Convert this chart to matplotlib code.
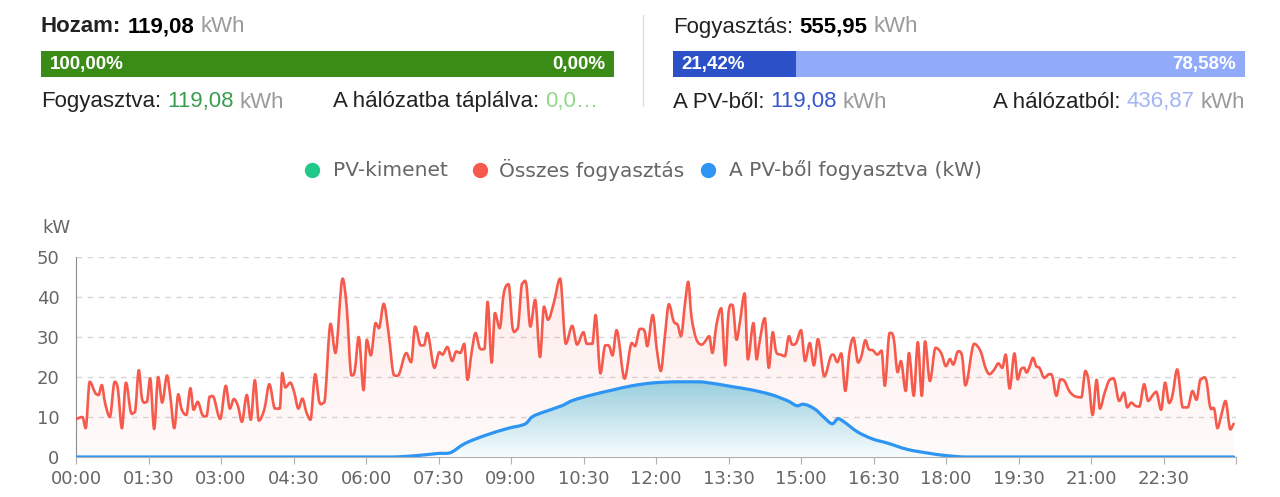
#Importing NumPy for array handling
import numpy as np
#Importing Matplotlib for drawing the dashboard
import matplotlib
matplotlib.use("Agg")
import matplotlib.pyplot as plt
from matplotlib.lines import Line2D
from matplotlib.path import Path
from matplotlib.patches import PathPatch

W, H = 1280, 497  #output size in pixels

#Summary numbers shown in the header (kWh)
yield_total = "119,08"
consumed_total = "555,95"
self_consumed = "119,08"
fed_to_grid = "0,0\u2026"
from_pv = "119,08"
from_grid = "436,87"
yield_shares = [100.00, 0.00]        #self consumed / fed in (%)
consumption_shares = [21.42, 78.58]  #from PV / from grid (%)

#Legend names
series_names = ["PV-kimenet", "Összes fogyasztás", "A PV-ből fogyasztva (kW)"]

#Total consumption (kW) at its turning points (minutes after midnight)
load_min = [0, 8, 12, 17, 24, 28, 32, 36, 42, 48, 52, 57, 62, 68, 73, 78, 82, 88, 92, 97,
            102, 107, 113, 117, 122, 127, 131, 137, 142, 146, 151, 157, 162, 166, 171, 179,
            186, 191, 196, 201, 206, 212, 217, 222, 227, 234, 240,
            247, 253, 256, 260, 266, 271, 276, 281, 286, 291, 297, 302, 308, 316, 322, 331,
            336, 342, 346, 351, 357, 361, 366, 372, 376, 382, 388, 395, 401, 410, 416, 421,
            428, 432, 436, 445, 451, 455, 461, 467, 472,
            477, 482, 486, 491, 496, 501, 507, 511, 516, 520, 526, 531, 537, 542, 548, 554,
            559, 564, 570, 576, 581, 586, 593, 601, 608, 616, 622, 630, 634, 641, 645, 651,
            657, 662, 666, 671, 681, 690, 694, 700, 706,
            709, 716, 721, 726, 731, 736, 742, 747, 751, 756, 760, 764, 770, 777, 781, 786,
            790, 795, 801, 806, 810, 815, 820, 824, 830, 834, 841, 845, 848, 855, 860, 865,
            869, 875, 880, 885, 889, 894, 900, 905, 911, 916, 921, 929, 937,
            940, 945, 950, 955, 960, 965, 971, 975, 980, 984, 989, 995, 1000, 1004, 1010,
            1015, 1020, 1024, 1030, 1034, 1040, 1045, 1050, 1054, 1060, 1067, 1074, 1080,
            1085, 1089, 1095, 1100, 1104, 1115, 1123, 1129, 1134, 1140, 1145, 1150, 1154,
            1159, 1165, 1169, 1173, 1177,
            1180, 1184, 1188, 1192, 1196, 1202, 1208, 1212, 1217, 1222, 1227, 1233, 1239,
            1248, 1253, 1257, 1262, 1267, 1271, 1277, 1284, 1289, 1295, 1301, 1305, 1310,
            1315, 1320, 1326, 1331, 1336, 1341, 1347, 1352, 1357, 1361, 1367, 1374, 1380,
            1386, 1391, 1396, 1403, 1408, 1413, 1417, 1422, 1427, 1433, 1437]
load_kw = [9.5, 10, 7.2, 18.8, 16, 15.5, 18, 13.6, 10, 18.8, 17, 7.2, 18.6, 11.3, 11.2, 21.7,
           14.5, 13.8, 19.7, 7, 20, 13.6, 20.4, 15.3, 7.2, 15.7, 12, 10.5, 17.2, 11.8, 13.8,
           10.5, 10.2, 15.1, 14.9, 9.5, 17.8, 12.1, 14.5, 12.8, 8.8, 15.5, 9.3, 19.2, 9.1,
           12.1, 18.2,
           12.1, 12.1, 21, 17.4, 18.6, 16.1, 12.1, 14.6, 11.2, 9.3, 20.7, 13.8, 13.6, 33.3,
           26, 44.6, 37.6, 20.4, 21.5, 30, 16.7, 29.3, 25.4, 33.5, 32.2, 38.3, 31, 20.4,
           20.7, 26, 23.7, 32.6, 27.9, 27.9, 31, 22.3, 26.2, 25.6, 27.5, 24, 26.4,
           26, 28.3, 19.3, 26, 31, 27.3, 27, 38.8, 23.6, 36, 32.2, 40.9, 43.2, 32.2, 32,
           43.4, 43.2, 32.6, 39.3, 25, 37.6, 34.3, 38.4, 44.6, 28.3, 32.8, 28.1, 31.2, 28.3,
           28.3, 35.5, 20.9, 27.9, 27.7, 25.4, 31.7, 19.6, 28.5, 27.7, 32, 31.4,
           27.7, 35.5, 26.9, 21.5, 30.2, 38.2, 33.9, 33, 30.2, 38.4, 43.8, 35.1, 29.5, 28.1,
           28.9, 30.2, 26, 33, 37.2, 22.9, 36, 38, 29.3, 33.5, 40.9, 24.4, 33.5, 24.4, 28.1,
           34.7, 22.3, 31.2, 26.4, 25.6, 25.2, 30.2, 28.1, 28.5, 31.7, 24, 28.5, 22.9, 29.5,
           20.2, 25.2,
           25.6, 23.7, 25.9, 16.5, 26, 29.8, 23.6, 25.2, 29.2, 27, 26.7, 25.6, 26.6, 17.8,
           31, 29.8, 21.2, 24, 16.5, 26, 15.3, 28.7, 15.3, 28.9, 19, 27.3, 26, 22.7, 24.5,
           23.1, 26.4, 25.2, 17.9, 28.3, 26.4, 22.3, 20.7, 21.9, 23.4, 22.3, 25.6, 17.1,
           25.9, 19.4, 21.9, 22.3,
           21.1, 22.7, 24.8, 22.7, 22.3, 19.8, 20.7, 20.2, 15.3, 19.4, 19, 16.5, 15.3, 14.9,
           21.5, 19, 10.5, 19.3, 12.1, 16.1, 19.4, 19.3, 14, 16.1, 12.4, 13.6, 12.8, 12.6,
           18.2, 14, 15.3, 16.3, 11.8, 18.6, 13.5, 15.3, 21.9, 12.4, 12.4, 16.5, 14.3, 19.4,
           19.3, 12.4, 12, 7.2, 10.7, 14, 6.9, 8.3]

#Consumption covered by PV (kW)
pv_min = [0, 390, 420, 450, 465, 482, 508, 537, 558, 566, 580, 603, 616, 640, 665, 690, 715,
          748, 772, 797, 814, 838, 863, 884, 896, 902, 917, 929, 939, 946, 952, 970, 989,
          1007, 1032, 1057, 1078, 1106, 1437]
pv_kw = [0, 0, 0.3, 0.9, 1.1, 3.3, 5.4, 7.2, 8.3, 10, 11.2, 12.8, 14.1, 15.5, 16.7, 17.8, 18.5,
         18.8, 18.8, 18.2, 17.6, 16.8, 15.6, 14, 12.8, 13.2, 12, 9.8, 8.3, 9.6, 9, 6.3, 4.5,
         3.5, 1.9, 1, 0.4, 0, 0]

#Tick positions for the time axis (every 90 minutes)
tick_min = list(range(0, 1441, 90))
tick_labels = ["%02d:%02d" % (m // 60, m % 60) for m in tick_min]
tick_labels[-1] = ""

#Colours
GREEN_BAR = "#3b8c17"
BLUE_DARK = "#2b50c8"
BLUE_LIGHT = "#91abfa"
RED = "#f65a4c"
BLUE = "#2e95f2"
PV_GREEN = "#20c987"
GREY_UNIT = "#9a9a9a"
TEXT = "#222222"

HEAD_FONT = "Liberation Sans"
CHART_FONT = "DejaVu Sans"


def fx(px):
    return px / W


def fy(py):
    return 1 - py / H


#Draws a row of differently styled text pieces one after the other
def put_runs(fig, x, y, runs, size, align="left", gap=6):
    r = fig.canvas.get_renderer()
    texts = []
    cur = x
    for s, color, weight in runs:
        t = fig.text(fx(cur), fy(y), s, color=color, fontsize=size, fontweight=weight,
                     va="center", ha="left", family=HEAD_FONT)
        cur += t.get_window_extent(r).width + gap
        texts.append(t)
    if align == "right":
        shift = cur - gap - x
        for t in texts:
            t.set_x(t.get_position()[0] - shift / W)


#Stacked share bar in its own small axes
def share_bar(fig, left, top, right, bottom, shares, colors, labels):
    bax = fig.add_axes([fx(left), fy(bottom), fx(right - left), (bottom - top) / H])
    start = 0
    for s, c in zip(shares, colors):
        bax.barh(0, s, left=start, height=1, color=c, linewidth=0)
        start += s
    bax.set_xlim(0, 100)
    bax.set_ylim(-0.5, 0.5)
    bax.axis("off")
    bax.text(1.5, 0, labels[0], color="white", fontsize=13.5, fontweight="bold",
             va="center", ha="left", family=HEAD_FONT)
    bax.text(98.5, 0, labels[1], color="white", fontsize=13.5, fontweight="bold",
             va="center", ha="right", family=HEAD_FONT)


def pct(v):
    return ("%.2f" % v).replace(".", ",") + "%"


#Smooth bezier path through the points (flat tangent at local peaks and dips)
def smooth_path(x, y):
    pts = np.column_stack([x, y]).astype(float)
    n = len(pts)
    tang = np.zeros_like(pts)
    for i in range(n):
        a = pts[max(i - 1, 0)]
        b = pts[min(i + 1, n - 1)]
        tang[i] = (b - a) / 2
        if 0 < i < n - 1:
            dy1 = pts[i, 1] - pts[i - 1, 1]
            dy2 = pts[i + 1, 1] - pts[i, 1]
            if dy1 * dy2 <= 0:
                tang[i, 1] = 0
    verts = [pts[0]]
    codes = [Path.MOVETO]
    for i in range(n - 1):
        h = (pts[i + 1, 0] - pts[i, 0]) / (2 * max(abs(tang[i, 0]), 1e-9))
        h2 = (pts[i + 1, 0] - pts[i, 0]) / (2 * max(abs(tang[i + 1, 0]), 1e-9))
        c1 = pts[i] + tang[i] * h * 2 / 3
        c2 = pts[i + 1] - tang[i + 1] * h2 * 2 / 3
        verts += [c1, c2, pts[i + 1]]
        codes += [Path.CURVE4] * 3
    return np.array(verts), codes


#Draws a smooth series with a vertical colour gradient underneath
def smooth_area(ax, x, y, color, lw, top_rgba, bottom_rgba, ytop, zorder):
    verts, codes = smooth_path(x, y)
    area = Path(np.vstack([verts, [[x[-1], 0], [x[0], 0], [x[0], 0]]]),
                codes + [Path.LINETO, Path.LINETO, Path.CLOSEPOLY])
    grad = np.linspace(0, 1, 256)[:, None, None]
    top = np.array(top_rgba)[None, None, :]
    bot = np.array(bottom_rgba)[None, None, :]
    img = bot + (top - bot) * grad
    im = ax.imshow(img, extent=[x[0], x[-1], 0, ytop], origin="lower", aspect="auto",
                   zorder=zorder, interpolation="bilinear")
    im.set_clip_path(area, transform=ax.transData)
    ax.add_patch(PathPatch(Path(verts, codes), fill=False, edgecolor=color, lw=lw,
                           joinstyle="round", capstyle="round", zorder=zorder + 2))


def main():
    fig = plt.figure(figsize=(W / 100, H / 100), dpi=100)
    fig.patch.set_facecolor("white")

    #Header, left block
    put_runs(fig, 41, 27, [("Hozam:", TEXT, "bold"), (yield_total, "black", "bold"),
                           ("kWh", GREY_UNIT, "normal")], 16)
    share_bar(fig, 41, 51, 614, 77, yield_shares, [GREEN_BAR, "#9ed38a"],
              [pct(yield_shares[0]), pct(yield_shares[1])])
    put_runs(fig, 41, 102, [("Fogyasztva:", TEXT, "normal"), (self_consumed, "#3a9d50", "normal"),
                            ("kWh", GREY_UNIT, "normal")], 16)
    put_runs(fig, 333, 102, [("A hálózatba táplálva:", TEXT, "normal"),
                             (fed_to_grid, "#8fd98a", "normal")], 16)

    #Divider
    fig.add_artist(Line2D([fx(643), fx(643)], [fy(15), fy(106)], color="#dddddd", lw=1))

    #Header, right block
    put_runs(fig, 673, 27, [("Fogyasztás:", TEXT, "normal"), (consumed_total, "black", "bold"),
                            ("kWh", GREY_UNIT, "normal")], 16)
    share_bar(fig, 673, 51, 1245, 77, consumption_shares, [BLUE_DARK, BLUE_LIGHT],
              [pct(consumption_shares[0]), pct(consumption_shares[1])])
    put_runs(fig, 673, 102, [("A PV-ből:", TEXT, "normal"), (from_pv, "#3556cc", "normal"),
                             ("kWh", GREY_UNIT, "normal")], 16)
    put_runs(fig, 1245, 102, [("A hálózatból:", TEXT, "normal"), (from_grid, "#a3b4f5", "normal"),
                              ("kWh", GREY_UNIT, "normal")], 16, align="right")

    #Legend row
    legend_pos = [(312, 333), (480, 499), (708, 729)]
    for (dot_x, text_x), name, c in zip(legend_pos, series_names, [PV_GREEN, RED, BLUE]):
        fig.add_artist(Line2D([fx(dot_x)], [fy(170)], marker="o", markersize=10,
                              markerfacecolor=c, markeredgecolor=c, linestyle="none"))
        fig.text(fx(text_x), fy(170), name, fontsize=14.5, color="#666666", va="center",
                 ha="left", family=CHART_FONT)

    #Power chart
    ax = fig.add_axes([fx(76), fy(457), fx(1236 - 76), (457 - 257) / H])
    smooth_area(ax, load_min, load_kw, RED, 1.9, (0.965, 0.353, 0.298, 0.12),
                (0.965, 0.353, 0.298, 0.025), 45, 1)
    smooth_area(ax, pv_min, pv_kw, BLUE, 2.3, (0.60, 0.81, 0.87, 1.0),
                (0.97, 0.99, 0.995, 1.0), 19, 2)

    ax.set_xlim(0, 1440)
    ax.set_ylim(0, 50)
    ax.set_xticks(tick_min)
    ax.set_xticklabels(tick_labels)
    ax.set_yticks(range(0, 51, 10))
    ax.grid(axis="y", color="#d6d6d6", linestyle=(0, (4, 4)), lw=1)
    ax.set_axisbelow(True)
    for side in ["top", "right"]:
        ax.spines[side].set_visible(False)
    ax.spines["left"].set_color("#8c8c8c")
    ax.spines["bottom"].set_color("#b0b0b0")
    ax.tick_params(axis="x", length=5, color="#b0b0b0", labelcolor="#666666", labelsize=13, pad=4)
    ax.tick_params(axis="y", length=0, labelcolor="#666666", labelsize=13, pad=12)
    for lbl in ax.get_xticklabels() + ax.get_yticklabels():
        lbl.set_family(CHART_FONT)
    ax.set_facecolor("none")
    fig.text(fx(42), fy(228), "kW", fontsize=13, color="#666666", va="center", ha="left",
             family=CHART_FONT)

    fig.savefig("out.png", dpi=100)


if __name__ == "__main__":
    main()
